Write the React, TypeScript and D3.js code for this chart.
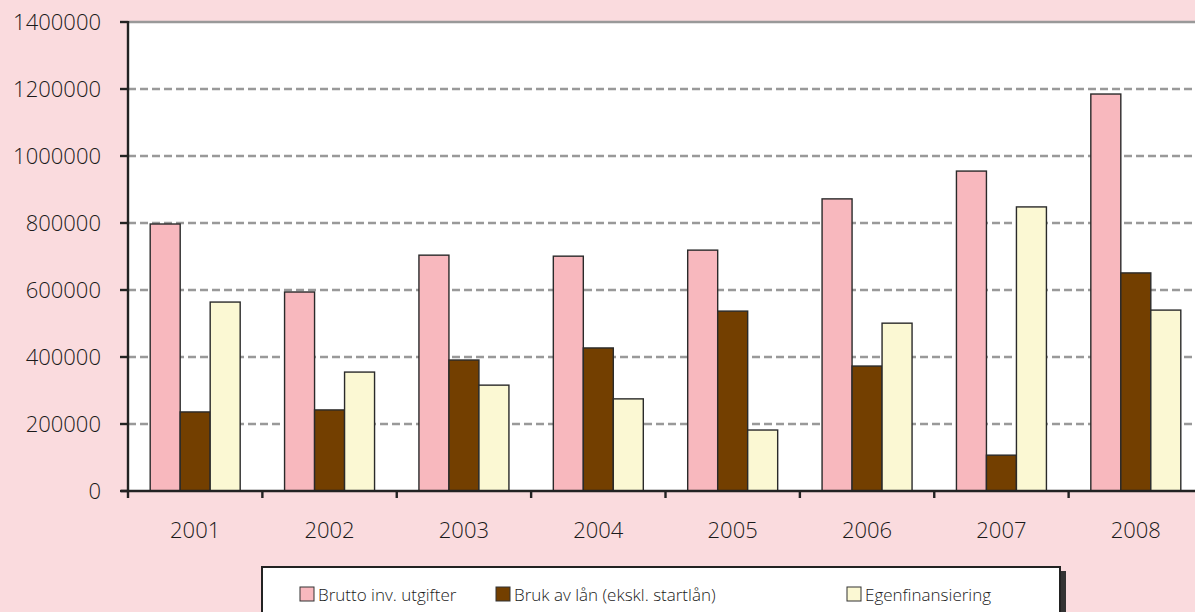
import React from "react";
import * as d3 from "d3";

const years = ["2001", "2002", "2003", "2004", "2005", "2006", "2007", "2008"];
const seriesNames = ["Brutto inv. utgifter", "Bruk av lån (ekskl. startlån)", "Egenfinansiering"];
const brutto = [797000, 594000, 704000, 701000, 719000, 872000, 955000, 1185000];
const bruk = [236000, 242000, 391000, 427000, 537000, 373000, 107000, 651000];
const egen = [564000, 355000, 316000, 275000, 182000, 501000, 848000, 540000];
const yTicks = [0, 200000, 400000, 600000, 800000, 1000000, 1200000, 1400000];
const colors = ["#F8B8BE", "#733F00", "#FBF8D3"];

export default function App() {
  const W = 1195, H = 612;
  const left = 128, right = 1203, top = 22, bottom = 491;
  const x = d3.scaleBand<string>().domain(years).range([left, right]).paddingInner(0).paddingOuter(0);
  const inner = d3.scaleBand<number>().domain([0, 1, 2]).range([0, x.bandwidth()]).paddingInner(0).paddingOuter(0.74);
  const y = d3.scaleLinear().domain([0, 1400000]).range([bottom, top]);
  const data = [brutto, bruk, egen];
  const font = "'Open Sans', 'Noto Sans', sans-serif";
  const legendX = [300, 496, 847];

  return (
    <svg width={W} height={H} style={{ position: "absolute", left: 0, top: 0, display: "block" }}>
      <rect x={0} y={0} width={W} height={H} fill="#FADBDE" />
      <rect x={left} y={top} width={right - left} height={bottom - top} fill="#FFFFFF" />
      {yTicks.slice(1).map((t) => (
        <line key={t} x1={left} x2={right} y1={Math.round(y(t))} y2={Math.round(y(t))} stroke="#999999" strokeWidth={2.4}
          strokeDasharray={t === 1400000 ? undefined : "8,4"} />
      ))}
      {data.map((vals, si) =>
        vals.map((v, i) => (
          <rect key={`${si}-${i}`} x={(x(years[i]) as number) + (inner(si) as number)} y={y(v)}
            width={inner.bandwidth()} height={bottom - y(v)} fill={colors[si]} stroke="#2a2a2a" strokeWidth={1.4} />
        ))
      )}
      <line x1={left} x2={left} y1={top - 1} y2={bottom + 7} stroke="#222" strokeWidth={2.4} />
      <line x1={left - 7} x2={right} y1={bottom} y2={bottom} stroke="#222" strokeWidth={2.4} />
      {yTicks.map((t) => (
        <g key={t}>
          <line x1={left - 8} x2={left} y1={Math.round(y(t))} y2={Math.round(y(t))} stroke="#222" strokeWidth={2.4} />
          <text x={101} y={y(t)} dy="0.36em" textAnchor="end" fontFamily={font} fontWeight={300} fontSize={22} fill="#1a1a1a">{t}</text>
        </g>
      ))}
      {years.map((yr) => (
        <g key={yr}>
          <line x1={(x(yr) as number) + x.bandwidth()} x2={(x(yr) as number) + x.bandwidth()} y1={bottom} y2={bottom + 7} stroke="#222" strokeWidth={2.4} />
          <text x={(x(yr) as number) + x.bandwidth() / 2} y={538} textAnchor="middle" fontFamily={font} fontWeight={300} fontSize={22} fill="#1a1a1a">{yr}</text>
        </g>
      ))}
      <rect x={266} y={571} width={800} height={60} fill="#333" />
      <rect x={262} y={567} width={798} height={60} fill="#FFFFFF" stroke="#222" strokeWidth={2} />
      {seriesNames.map((n, i) => (
        <g key={n}>
          <rect x={legendX[i]} y={587} width={14} height={14} fill={colors[i]} stroke="#333" strokeWidth={1} />
          <text x={legendX[i] + 18} y={601} fontFamily={font} fontWeight={300} fontSize={17} fill="#1a1a1a">{n}</text>
        </g>
      ))}
    </svg>
  );
}
